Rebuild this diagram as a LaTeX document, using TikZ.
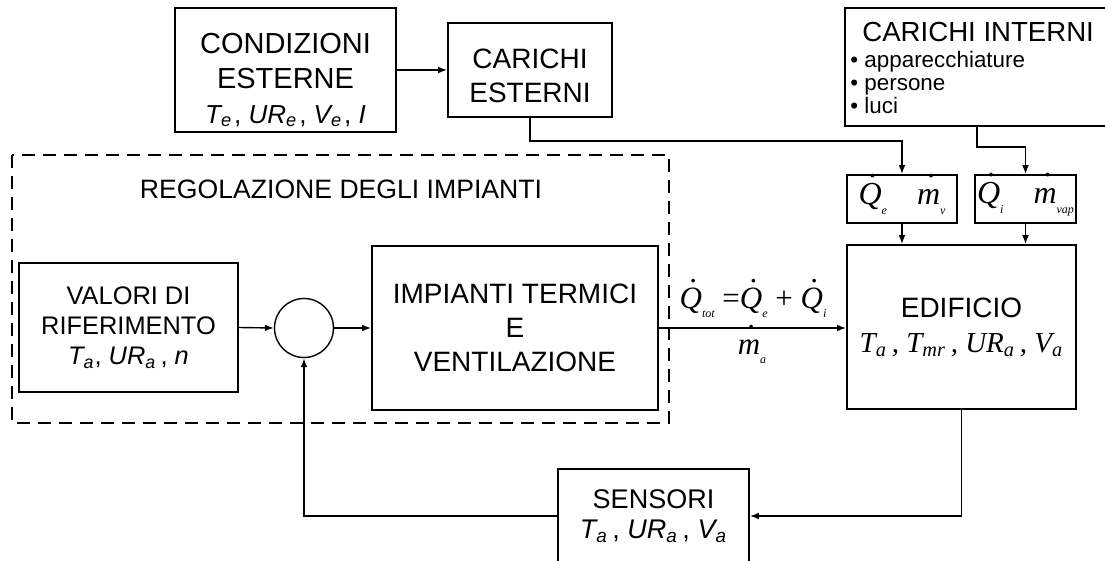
\documentclass[tikz,border=0pt]{standalone}
\usepackage{fontspec}
\setmainfont{Liberation Sans}
\newfontfamily\tnr{Liberation Serif}
\usetikzlibrary{positioning,arrows.meta,calc}
\newcommand\fs[2]{\fontsize{#1}{#2}\selectfont}
\newcommand\sv[2]{\textit{#1\textsubscript{#2}}}
\newcommand\dt[1]{\ooalign{#1\cr\hidewidth\kern0.2em\raisebox{0.85em}{.}\hidewidth\cr}}
\newcommand\lo[1]{\raisebox{-0.3em}{\fs{6}{6}#1}}

\begin{document}
\begin{tikzpicture}[x=0.5pt,y=-0.5pt,>={Latex[length=4.5pt,width=3.4pt]},
    box/.style={draw,line width=0.9pt,align=center,inner sep=0pt},
    wire/.style={->,line width=0.7pt},
    txt/.style={align=center,inner sep=0pt}]
  \useasboundingbox (0,0) rectangle (1105,561);
  % regolazione
  \draw[line width=0.9pt,dash pattern=on 6.5pt off 4pt] (12,155) rectangle (669,423);
  \node[txt,font=\fs{13.3}{15}] (regT) at (341,189) {REGOLAZIONE DEGLI IMPIANTI};
  \node[box,minimum width=109.5pt,minimum height=64.5pt,font=\fs{12.7}{15}] (val) at (128.5,327.5)
    {VALORI DI\\RIFERIMENTO\\\sv{T}{a}, \sv{UR}{a}\,, \textit{n}};
  \node[draw,circle,line width=0.7pt,minimum size=29.5pt,inner sep=0pt] (circ) at (304,328) {};
  \node[box,minimum width=143pt,minimum height=82pt,font=\fs{14}{17}] (imp) at (515,328)
    {IMPIANTI TERMICI\\E\\VENTILAZIONE};
  % carichi
  \node[box,minimum width=110.5pt,minimum height=62pt] (cond) at (285.5,70) {};
  \node[txt,font=\fs{14.5}{17.5}] (condT) at (285.5,80)
    {CONDIZIONI\\ESTERNE\\{\fs{13}{17.5}\sv{T}{e}\kern1pt, \sv{UR}{e}\kern1pt, \sv{V}{e}\kern1pt, \textit{I}}};
  \node[box,minimum width=82pt,minimum height=47pt] (carE) at (530,70) {};
  \node[txt,font=\fs{14}{17}] (carET) at (530,76) {CARICHI\\ESTERNI};
  \node[box,minimum width=132.5pt,minimum height=59pt] (carI) at (977.5,67) {};
  \node[anchor=base west,inner sep=0pt,font=\fs{13.8}{16}] (carIT) at (862,42) {CARICHI INTERNI};
  \foreach \lbl [count=\k] in {apparecchiature,persone,luci}
    \node[anchor=base west,inner sep=0pt,font=\fs{11.2}{12}] (item\k) at (850,{45+23*\k}) {\textbullet\ \lbl};
  \node[box,minimum width=55pt,minimum height=24pt,font=\tnr\itshape\fs{16}{16}] (qe) at (902,199)
    {\dt{Q}\lo{e}\hspace{15pt}\dt{m}\lo{v}};
  \node[box,minimum width=50.5pt,minimum height=24pt,font=\tnr\itshape\fs{16}{16}] (qi) at (1025.5,199)
    {\dt{Q}\lo{i}\hspace{15pt}\dt{m}\lo{vap}};
  % edificio e sensori
  \node[box,minimum width=114.5pt,minimum height=82pt,font=\fs{14}{17.5}] (edi) at (961.5,327)
    {EDIFICIO\\{\tnr\itshape\fs{14.5}{17.5}T\textsubscript{a}\,, T\textsubscript{mr}\,, UR\textsubscript{a}\,, V\textsubscript{a}}};
  \node[box,minimum width=95.5pt,minimum height=47pt,font=\fs{13.5}{15}] (sen) at (653.5,516)
    {SENSORI\\\sv{T}{a}\,, \sv{UR}{a}\,, \sv{V}{a}};
  \node[txt,font=\tnr\itshape\fs{15.5}{15}] (qtot) at (753,303)
    {\dt{Q}\lo{tot} {\upshape =}\dt{Q}\lo{e} {\upshape +} \dt{Q}\lo{i}};
  \node[txt,font=\tnr\itshape\fs{15.5}{15}] (ma) at (752,352) {\dt{m}\lo{a}};
  % collegamenti
  \coordinate (kE) at (902,141);
  \coordinate (kI) at (977,147);
  \draw[wire] (cond.east) -- (carE.west);
  \draw[wire] (carE.south) |- (kE) -- (qe.north);
  \draw[wire] (kI |- carI.south) -- (kI) -| (qi.north);
  \draw[wire] (qe.south) -- (qe.south |- edi.north);
  \draw[wire] (qi.south) -- (qi.south |- edi.north);
  \draw[wire] (val.east) -- (circ.west);
  \draw[wire] (circ.east) -- (imp.west);
  \draw[wire] (imp.east) -- (imp.east -| edi.west);
  \draw[wire] (edi.south) |- (sen.east);
  \draw[wire] (sen.west) -| (circ.south);
\end{tikzpicture}
\end{document}
